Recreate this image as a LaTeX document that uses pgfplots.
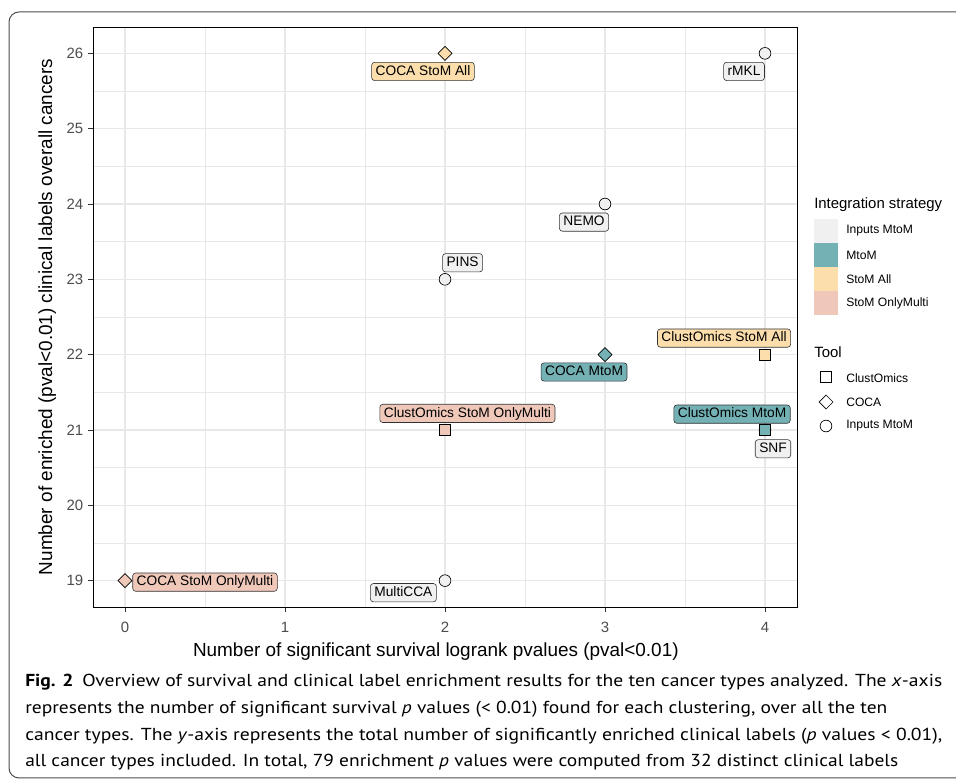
\documentclass[border=0pt]{standalone}
\usepackage{fontspec}
\usepackage{graphicx}
\usepackage{pgfplots}
\pgfplotsset{compat=1.18}
\setmainfont{Liberation Sans}
\newfontfamily\capfont{PT Sans}
\definecolor{InMtoM}{HTML}{F0F0F0}
\definecolor{MtoM}{HTML}{74B1B4}
\definecolor{StoMAll}{HTML}{FBDEAC}
\definecolor{StoMOnly}{HTML}{F0C8BA}
\tikzset{
  lbl/.style={draw=black!80, line width=0.45pt, rounded corners=2.2pt, inner xsep=3pt, inner ysep=2pt,
    text height=7.6pt, text depth=2.1pt, font=\fontsize{10.3pt}{12pt}\selectfont, anchor=center, text=black},
}
\pgfplotsset{
  circ/.style={only marks, mark=*, mark size=4.4pt, mark options={draw=black, line width=0.5pt, fill=#1, solid}},
  sq/.style={only marks, mark=square*, mark size=4.1pt, mark options={draw=black, line width=0.5pt, fill=#1, solid}},
  dia/.style={only marks, mark=square*, mark size=3.7pt, mark options={draw=black, line width=0.5pt, fill=#1, solid, rotate=45}},
}
\newcommand{\capline}[2]{\resizebox{#1}{\height}{\capfont\fontsize{13pt}{15pt}\selectfont #2}}
\begin{document}
\begin{tikzpicture}
\path[use as bounding box] (0pt,0pt) rectangle (717pt,585pt);
\draw[black!70, line width=0.75pt, rounded corners=7.5pt] (740pt,576pt) -- (6.75pt,576pt) -- (6.75pt,1.5pt) -- (740pt,1.5pt);
\begin{axis}[
  at={(69.75pt,129.75pt)}, anchor=south west,
  scale only axis, width=528pt, height=435pt,
  xmin=-0.2, xmax=4.2, ymin=18.65, ymax=26.35,
  xtick={0,1,2,3,4}, ytick={19,20,21,22,23,24,25,26},
  minor xtick={0.5,1.5,2.5,3.5}, minor ytick={19.5,20.5,21.5,22.5,23.5,24.5,25.5},
  grid=both,
  major grid style={line width=0.8pt, color=black!9},
  minor grid style={line width=0.4pt, color=black!9},
  tick align=outside, major tick length=3.75pt, minor tick length=0pt,
  xtick pos=left, ytick pos=left,
  tick style={color=black!80, line width=0.6pt},
  axis line style={line width=0.6pt, black},
  ticklabel style={font=\fontsize{11.2pt}{13pt}\selectfont, text=black!70},
  xticklabel style={yshift=-4pt},
  /pgf/number format/assume math mode=true,
  xlabel={Number of significant survival logrank pvalues (pval<0.01)},
  ylabel={Number of enriched (pval<0.01) clinical labels overall cancers},
  label style={font=\fontsize{14.2pt}{16pt}\selectfont},
  xlabel style={at={(axis description cs:0.487,-0.0845)}, anchor=base},
  ylabel style={at={(axis description cs:-0.0582,0.5)}, anchor=base, rotate=0},
  clip mode=individual,
]
\addplot[circ=InMtoM] coordinates {(4,26) (3,24) (2,23) (4,21) (2,19)};
\addplot[sq=StoMAll] coordinates {(4,22)};
\addplot[sq=StoMOnly] coordinates {(2,21)};
\addplot[sq=MtoM] coordinates {(4,21)};
\addplot[dia=StoMAll] coordinates {(2,26)};
\addplot[dia=MtoM] coordinates {(3,22)};
\addplot[dia=StoMOnly] coordinates {(0,19)};
\node[lbl, fill=StoMAll] at (axis cs:1.8625,25.76) {COCA StoM All};
\node[lbl, fill=InMtoM] at (axis cs:3.869,25.76) {rMKL};
\node[lbl, fill=InMtoM] at (axis cs:2.869,23.76) {NEMO};
\node[lbl, fill=InMtoM] at (axis cs:2.11,23.22) {PINS};
\node[lbl, fill=StoMAll] at (axis cs:3.744,22.22) {ClustOmics StoM All};
\node[lbl, fill=MtoM] at (axis cs:2.869,21.77) {COCA MtoM};
\node[lbl, fill=MtoM] at (axis cs:3.794,21.21) {ClustOmics MtoM};
\node[lbl, fill=InMtoM] at (axis cs:4.05,20.75) {SNF};
\node[lbl, fill=StoMOnly] at (axis cs:2.14,21.22) {ClustOmics StoM OnlyMulti};
\node[lbl, fill=StoMOnly] at (axis cs:0.50,18.98) {COCA StoM OnlyMulti};
\node[lbl, fill=InMtoM] at (axis cs:1.74,18.84) {MultiCCA};
\end{axis}
\begin{axis}[
  at={(0pt,0pt)}, anchor=south west,
  scale only axis, width=717pt, height=585pt,
  xmin=0, xmax=956, ymin=0, ymax=780, y dir=reverse,
  hide axis, clip=false,
]
% legend: Integration strategy
\node[anchor=west, inner sep=0pt, font=\fontsize{11.2pt}{13pt}\selectfont] at (axis cs:814,205) {Integration strategy};
\addplot[fill=InMtoM, draw=none] coordinates {(814,219) (838,219) (838,243) (814,243)} -- cycle;
\addplot[fill=MtoM, draw=none] coordinates {(814,243) (838,243) (838,267) (814,267)} -- cycle;
\addplot[fill=StoMAll, draw=none] coordinates {(814,267) (838,267) (838,291) (814,291)} -- cycle;
\addplot[fill=StoMOnly, draw=none] coordinates {(814,291) (838,291) (838,315) (814,315)} -- cycle;
\node[anchor=west, inner sep=0pt, font=\fontsize{9.1pt}{11pt}\selectfont] at (axis cs:846,231) {Inputs MtoM};
\node[anchor=west, inner sep=0pt, font=\fontsize{9.1pt}{11pt}\selectfont] at (axis cs:846,255) {MtoM};
\node[anchor=west, inner sep=0pt, font=\fontsize{9.1pt}{11pt}\selectfont] at (axis cs:846,279) {StoM All};
\node[anchor=west, inner sep=0pt, font=\fontsize{9.1pt}{11pt}\selectfont] at (axis cs:846,303) {StoM OnlyMulti};
% legend: Tool
\node[anchor=west, inner sep=0pt, font=\fontsize{11.2pt}{13pt}\selectfont] at (axis cs:814,352) {Tool};
\addplot[sq=white] coordinates {(826,377)};
\addplot[dia=white] coordinates {(826,402)};
\addplot[circ=white] coordinates {(826,426)};
\node[anchor=west, inner sep=0pt, font=\fontsize{9.1pt}{11pt}\selectfont] at (axis cs:846,378) {ClustOmics};
\node[anchor=west, inner sep=0pt, font=\fontsize{9.1pt}{11pt}\selectfont] at (axis cs:846,402) {COCA};
\node[anchor=west, inner sep=0pt, font=\fontsize{9.1pt}{11pt}\selectfont] at (axis cs:846,426) {Inputs MtoM};
% caption
\node[anchor=base west, inner sep=0pt] at (axis cs:25,686) {\capline{687.75pt}{\textbf{Fig. 2}\hspace{0.45em}Overview of survival and clinical label enrichment results for the ten cancer types analyzed. The \textit{x}-axis}};
\node[anchor=base west, inner sep=0pt] at (axis cs:25,713) {\capline{646.5pt}{represents the number of significant survival \textit{p} values (< 0.01) found for each clustering, over all the ten}};
\node[anchor=base west, inner sep=0pt] at (axis cs:25,740) {\capline{687.75pt}{cancer types. The \textit{y}-axis represents the total number of significantly enriched clinical labels (\textit{p} values < 0.01),}};
\node[anchor=base west, inner sep=0pt] at (axis cs:25,766) {\capline{654.75pt}{all cancer types included. In total, 79 enrichment \textit{p} values were computed from 32 distinct clinical labels}};
\end{axis}
\end{tikzpicture}
\end{document}
